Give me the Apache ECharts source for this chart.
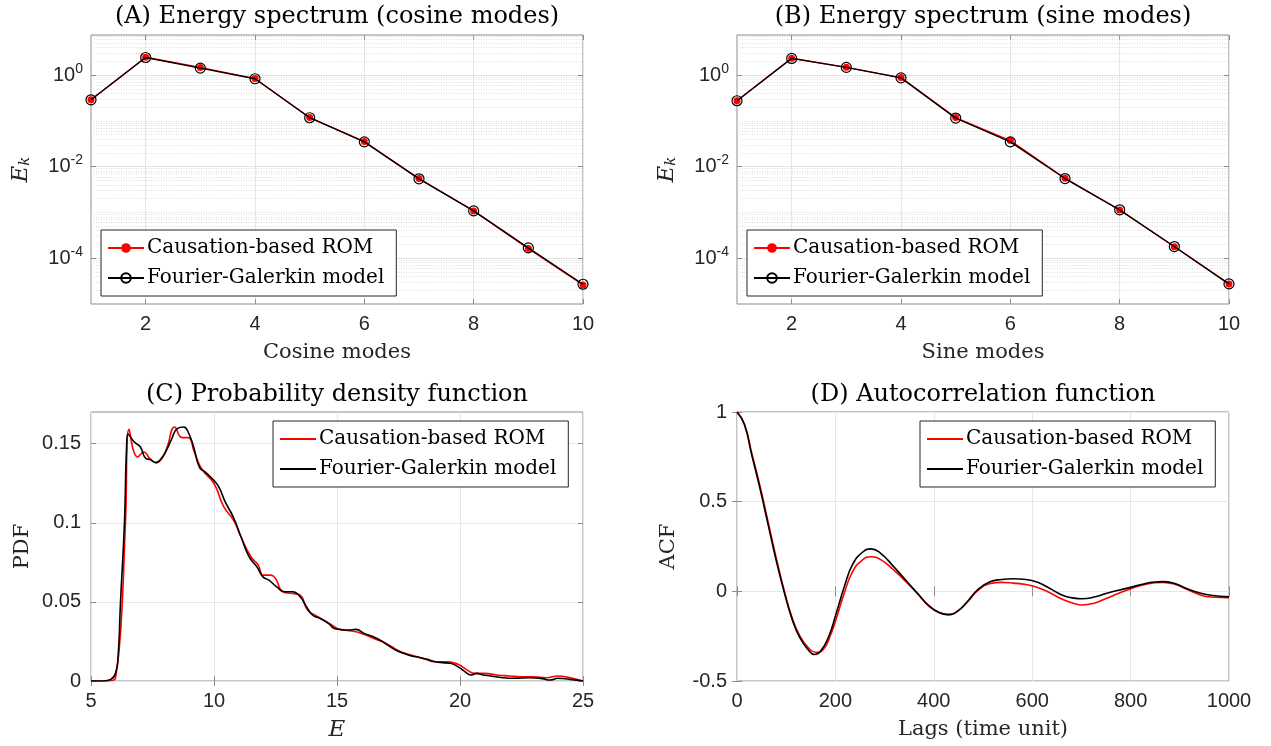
<!DOCTYPE html>
<html>
<head>
<meta charset="utf-8">
<script src="https://cdn.jsdelivr.net/npm/echarts@6/dist/echarts.min.js"></script>
<style>
  html, body { margin: 0; padding: 0; background: #fff; }
  #container { width: 1271px; height: 746px; }
</style>
</head>
<body>
<div id="container"></div>
<script>
// energy spectra (panels A, B)
var modes = [1, 2, 3, 4, 5, 6, 7, 8, 9, 10];
var cosRom = [0.29, 2.45, 1.47, 0.84, 0.118, 0.0352, 0.0055, 0.00108, 1.62e-4, 2.6e-5];
var cosFg  = [0.288, 2.42, 1.42, 0.83, 0.117, 0.0348, 0.00542, 0.00108, 1.68e-4, 2.7e-5];
var sinRom = [0.276, 2.33, 1.48, 0.88, 0.118, 0.037, 0.0056, 0.00113, 1.78e-4, 2.72e-5];
var sinFg  = [0.275, 2.31, 1.47, 0.87, 0.115, 0.0348, 0.0055, 0.00114, 1.8e-4, 2.75e-5];

// PDF (panel C)
var pdfFgE = [5, 5.5, 5.8, 6.0, 6.1, 6.2, 6.36, 6.44, 6.51, 6.76, 7.0, 7.24, 7.4, 7.64, 7.8, 8.04, 8.28, 8.5, 8.77, 8.93, 9.17, 9.41, 9.65, 9.98, 10.2, 10.46, 10.78, 11.1, 11.43, 11.75, 11.99, 12.23, 12.55, 12.87, 13.2, 13.5, 13.76, 14.0, 14.32, 14.65, 14.9, 15.13, 15.45, 15.77, 16.1, 16.4, 16.74, 17.06, 17.38, 17.7, 18.03, 18.35, 18.67, 18.99, 19.3, 19.6, 19.96, 20.2, 20.44, 20.68, 20.93, 21.25, 21.73, 22.2, 22.86, 23.34, 23.66, 23.98, 24.47, 25];
var pdfFg = [0, 0, 0.001, 0.005, 0.015, 0.05, 0.1, 0.145, 0.156, 0.151, 0.148, 0.1405, 0.14, 0.138, 0.1395, 0.145, 0.153, 0.1595, 0.1605, 0.158, 0.148, 0.135, 0.132, 0.127, 0.1226, 0.113, 0.1037, 0.091, 0.0785, 0.072, 0.0658, 0.0637, 0.0595, 0.0564, 0.0564, 0.0532, 0.047, 0.0417, 0.0395, 0.0364, 0.0332, 0.0326, 0.0322, 0.0326, 0.0301, 0.0284, 0.0259, 0.0227, 0.0196, 0.0175, 0.0158, 0.0149, 0.0137, 0.0122, 0.0116, 0.0112, 0.0086, 0.0059, 0.0038, 0.0048, 0.0038, 0.0032, 0.0021, 0.0017, 0.0021, 0.0015, 0.0006, 0.0017, 0.001, 0];
var pdfRomE = [5, 5.6, 5.9, 6.0, 6.2, 6.4, 6.55, 6.9, 7.15, 7.4, 7.65, 7.9, 8.1, 8.4, 8.7, 8.95, 9.2, 9.5, 10.0, 10.4, 10.8, 11.1, 11.5, 11.8, 12.0, 12.3, 12.5, 12.8, 13.2, 13.5, 13.8, 14.1, 14.5, 14.8, 15.1, 15.5, 16.0, 16.5, 17.0, 17.5, 18.0, 18.5, 19.0, 19.5, 19.9, 20.3, 20.6, 21.0, 21.5, 22.0, 22.5, 23.0, 23.5, 24.0, 24.3, 24.7, 25];
var pdfRom = [0, 0, 0.0005, 0.002, 0.03, 0.1, 0.159, 0.1416, 0.1447, 0.1405, 0.138, 0.141, 0.148, 0.1605, 0.1538, 0.1538, 0.1447, 0.134, 0.1248, 0.11, 0.1016, 0.091, 0.0785, 0.0732, 0.0669, 0.0669, 0.0648, 0.0564, 0.0553, 0.0543, 0.0448, 0.0417, 0.0381, 0.0353, 0.0326, 0.0318, 0.0301, 0.0269, 0.0238, 0.0191, 0.0164, 0.0143, 0.0122, 0.0122, 0.0107, 0.0069, 0.0048, 0.0048, 0.0038, 0.0032, 0.0027, 0.0027, 0.0021, 0.0032, 0.0027, 0.0013, 0];

// ACF (panel D)
var lagsFg = [0, 15, 30, 47, 63, 79, 96, 112, 128, 145, 157, 169, 186, 202, 218, 235, 255, 272, 292, 317, 341, 366, 390, 411, 430, 448, 468, 489, 513, 538, 562, 587, 611, 636, 660, 685, 701, 726, 750, 775, 800, 824, 849, 865, 890, 914, 939, 963, 1000];
var acfFg = [1, 0.93, 0.76, 0.57, 0.375, 0.18, -0.005, -0.155, -0.26, -0.327, -0.352, -0.337, -0.255, -0.12, 0.025, 0.15, 0.218, 0.237, 0.212, 0.142, 0.068, -0.008, -0.08, -0.118, -0.13, -0.112, -0.058, 0.008, 0.052, 0.066, 0.07, 0.066, 0.05, 0.016, -0.02, -0.038, -0.041, -0.032, -0.012, 0.006, 0.022, 0.04, 0.052, 0.054, 0.043, 0.016, -0.008, -0.022, -0.031];
var lagsRom = [0, 15, 30, 47, 63, 79, 96, 112, 128, 145, 160, 175, 190, 202, 218, 235, 255, 272, 292, 317, 341, 366, 390, 411, 430, 448, 468, 489, 513, 538, 562, 587, 611, 636, 660, 685, 701, 726, 750, 775, 800, 824, 849, 865, 890, 914, 939, 963, 1000];
var acfRom = [1, 0.935, 0.77, 0.585, 0.39, 0.195, 0.005, -0.148, -0.25, -0.315, -0.34, -0.325, -0.245, -0.15, -0.01, 0.11, 0.175, 0.193, 0.177, 0.122, 0.06, -0.01, -0.083, -0.12, -0.13, -0.11, -0.06, 0.004, 0.042, 0.05, 0.046, 0.038, 0.022, -0.008, -0.043, -0.068, -0.076, -0.066, -0.04, -0.012, 0.014, 0.035, 0.048, 0.05, 0.04, 0.012, -0.018, -0.032, -0.035];

// tick values
var modeTicks = [2, 4, 6, 8, 10];
var logTicks = [1e-4, 1e-2, 1];
var pdfTicks = [0, 0.05, 0.1, 0.15];

var legendNames = { rom: 'Causation-based ROM', fg: 'Fourier-Galerkin model' };

function pairs(xs, ys) {
  return xs.map(function (x, i) { return [x, ys[i]]; });
}

// dotted minor grid for the log panels
var minorLog = [];
for (var d = -5; d <= 0; d++) {
  for (var k = 1; k <= 9; k++) {
    var v = k * Math.pow(10, d);
    if (v <= 1e-5 || v >= 7.5) continue;
    if (k === 1 && d % 2 === 0) continue;
    minorLog.push({ yAxis: v });
  }
}

var SERIF = '"DejaVu Serif", "Liberation Serif", serif';
var SANS = '"Liberation Sans", Arial, sans-serif';
var axisColor = '#8c8c8c';
var labelColor = '#262626';

var grids = [
  { left: 91, top: 35, width: 492, height: 269 },
  { left: 737, top: 35, width: 492, height: 269 },
  { left: 91, top: 412, width: 492, height: 269 },
  { left: 737, top: 412, width: 492, height: 269 }
];
grids.forEach(function (g) {
  g.show = true;
  g.borderColor = axisColor;
  g.borderWidth = 1;
  g.backgroundColor = '#fff';
});

function tickStyle(custom) {
  var t = { inside: true, length: 5, lineStyle: { color: axisColor } };
  if (custom) t.customValues = custom;
  return t;
}

function xAxisBase(idx, name, min, max, interval, extra) {
  var ax = {
    type: 'value', gridIndex: idx, min: min, max: max,
    name: name, nameLocation: 'middle', nameGap: 38,
    nameTextStyle: { fontFamily: SERIF, fontSize: 21, color: labelColor },
    axisLine: { show: false },
    axisTick: tickStyle(),
    axisLabel: { fontFamily: SANS, fontSize: 20, color: labelColor, margin: 10, formatter: function (v) { return String(v); } },
    splitLine: { lineStyle: { color: '#e6e6e6' } }
  };
  if (interval) ax.interval = interval;
  return Object.assign(ax, extra || {});
}

function logYAxis(idx) {
  return {
    type: 'log', logBase: 10, gridIndex: idx, min: 1e-5, max: 7.5,
    name: '{i|E}{s|k}', nameLocation: 'middle', nameGap: 58,
    nameTextStyle: {
      rich: {
        i: { fontFamily: SERIF, fontStyle: 'italic', fontSize: 23, color: labelColor },
        s: { fontFamily: SERIF, fontStyle: 'italic', fontSize: 15, color: labelColor, verticalAlign: 'bottom' }
      }
    },
    axisLine: { show: false },
    axisTick: tickStyle(logTicks),
    axisLabel: {
      customValues: logTicks, margin: 8,
      formatter: function (v) {
        return '{b|10}{e|' + Math.round(Math.log10(v)) + '}';
      },
      rich: {
        b: { fontFamily: SANS, fontSize: 20, color: labelColor },
        e: { fontFamily: SANS, fontSize: 14, color: labelColor, verticalAlign: 'top', padding: [0, 0, 12, 0] }
      }
    },
    splitLine: { lineStyle: { color: '#e3e3e3' } }
  };
}

function linYAxis(idx, name, min, max, interval, extra) {
  var ax = {
    type: 'value', gridIndex: idx, min: min, max: max,
    name: name, nameLocation: 'middle', nameGap: 58,
    nameTextStyle: { fontFamily: SERIF, fontSize: 21, color: labelColor },
    axisLine: { show: false },
    axisTick: tickStyle(),
    axisLabel: { fontFamily: SANS, fontSize: 20, color: labelColor, margin: 10 },
    splitLine: { lineStyle: { color: '#e6e6e6' } }
  };
  if (interval) ax.interval = interval;
  return Object.assign(ax, extra || {});
}

// mirrored tick marks on the top / right edges (box on)
function mirrorAxis(base, pos) {
  var m = {
    type: base.type, gridIndex: base.gridIndex, min: base.min, max: base.max, position: pos,
    axisLine: { show: false }, axisLabel: { show: false }, splitLine: { show: false },
    axisTick: tickStyle(base.axisTick.customValues), silent: true
  };
  if (base.interval) m.interval = base.interval;
  if (base.logBase) m.logBase = base.logBase;
  return m;
}

function spectrumSeries(idx, tag, rom, fg) {
  return [
    {
      name: 'rom' + tag, type: 'line', xAxisIndex: idx, yAxisIndex: idx,
      data: pairs(modes, rom), symbol: 'circle', symbolSize: 7,
      itemStyle: { color: '#ff0000' }, lineStyle: { color: '#ff0000', width: 1.3 },
      z: 3,
      markLine: {
        silent: true, symbol: 'none', label: { show: false }, precision: 10,
        lineStyle: { color: '#d4d4d4', type: [1, 1.5], width: 0.8 },
        data: minorLog, z: 1
      }
    },
    {
      name: 'fg' + tag, type: 'line', xAxisIndex: idx, yAxisIndex: idx,
      data: pairs(modes, fg), symbol: 'circle', symbolSize: 10,
      itemStyle: { color: 'rgba(0,0,0,0)', borderColor: '#000', borderWidth: 1.2 },
      lineStyle: { color: '#000', width: 1.4 }, z: 4
    }
  ];
}

function curveSeries(idx, tag, xr, yr, xf, yf) {
  return [
    {
      name: 'rom' + tag, type: 'line', xAxisIndex: idx, yAxisIndex: idx,
      data: pairs(xr, yr), symbol: 'none', smooth: 0.5,
      lineStyle: { color: '#ff0000', width: 1.6 }, itemStyle: { color: '#ff0000' }, z: 3
    },
    {
      name: 'fg' + tag, type: 'line', xAxisIndex: idx, yAxisIndex: idx,
      data: pairs(xf, yf), symbol: 'none', smooth: 0.5,
      lineStyle: { color: '#000', width: 1.6 }, itemStyle: { color: '#000' }, z: 4
    }
  ];
}

function legendAt(tag, left, top, plain) {
  var lg = {
    data: ['rom' + tag, 'fg' + tag], orient: 'vertical', left: left, top: top,
    itemWidth: 36, itemHeight: 12, itemGap: 10,
    padding: [8, 12, 8, 6], borderColor: '#262626', borderWidth: 1, borderRadius: 0,
    backgroundColor: '#fff', selectedMode: false,
    textStyle: { fontFamily: SERIF, fontSize: 20, color: '#000', padding: [0, 0, 0, -2] },
    formatter: function (n) { return n.indexOf('rom') === 0 ? legendNames.rom : legendNames.fg; }
  };
  if (plain) lg.itemStyle = { opacity: 0 };
  return lg;
}

function titleAt(text, cx, top) {
  return {
    text: text, left: cx, top: top, textAlign: 'center', padding: 0,
    textStyle: { fontFamily: SERIF, fontSize: 24, fontWeight: 'normal', color: '#000' }
  };
}

var xAxes = [
  xAxisBase(0, 'Cosine modes', 1, 10, 0, { axisTick: tickStyle(modeTicks), axisLabel: { customValues: modeTicks, fontFamily: SANS, fontSize: 20, color: labelColor, margin: 10 } }),
  xAxisBase(1, 'Sine modes', 1, 10, 0, { axisTick: tickStyle(modeTicks), axisLabel: { customValues: modeTicks, fontFamily: SANS, fontSize: 20, color: labelColor, margin: 10 } }),
  xAxisBase(2, 'E', 5, 25, 5, { nameTextStyle: { fontFamily: SERIF, fontSize: 23, fontStyle: 'italic', color: labelColor } }),
  xAxisBase(3, 'Lags (time unit)', 0, 1000, 200)
];
var yAxes = [
  logYAxis(0),
  logYAxis(1),
  linYAxis(2, 'PDF', 0, 0.17, 0, {
    axisTick: tickStyle(pdfTicks),
    axisLabel: { customValues: pdfTicks, fontFamily: SANS, fontSize: 20, color: labelColor, margin: 10 }
  }),
  linYAxis(3, 'ACF', -0.5, 1, 0.5)
];
var xMirror = xAxes.map(function (a) { return mirrorAxis(a, 'top'); });
var yMirror = yAxes.map(function (a) { return mirrorAxis(a, 'right'); });

var dom = document.getElementById('container');
var myChart = echarts.init(dom, null, { renderer: 'canvas' });

var option = {
  animation: false,
  backgroundColor: '#fff',
  title: [
    titleAt('(A) Energy spectrum (cosine modes)', 337, 5),
    titleAt('(B) Energy spectrum (sine modes)', 983, 5),
    titleAt('(C) Probability density function', 337, 383),
    titleAt('(D) Autocorrelation function', 983, 383)
  ],
  legend: [
    legendAt('A', 101, 230),
    legendAt('B', 747, 230),
    legendAt('C', 273, 421, true),
    legendAt('D', 920, 421, true)
  ],
  grid: grids,
  xAxis: xAxes.concat(xMirror),
  yAxis: yAxes.concat(yMirror),
  series: [].concat(
    spectrumSeries(0, 'A', cosRom, cosFg),
    spectrumSeries(1, 'B', sinRom, sinFg),
    curveSeries(2, 'C', pdfRomE, pdfRom, pdfFgE, pdfFg),
    curveSeries(3, 'D', lagsRom, acfRom, lagsFg, acfFg)
  )
};

if (option && typeof option === 'object') {
  myChart.setOption(option);
}
</script>
</body>
</html>
